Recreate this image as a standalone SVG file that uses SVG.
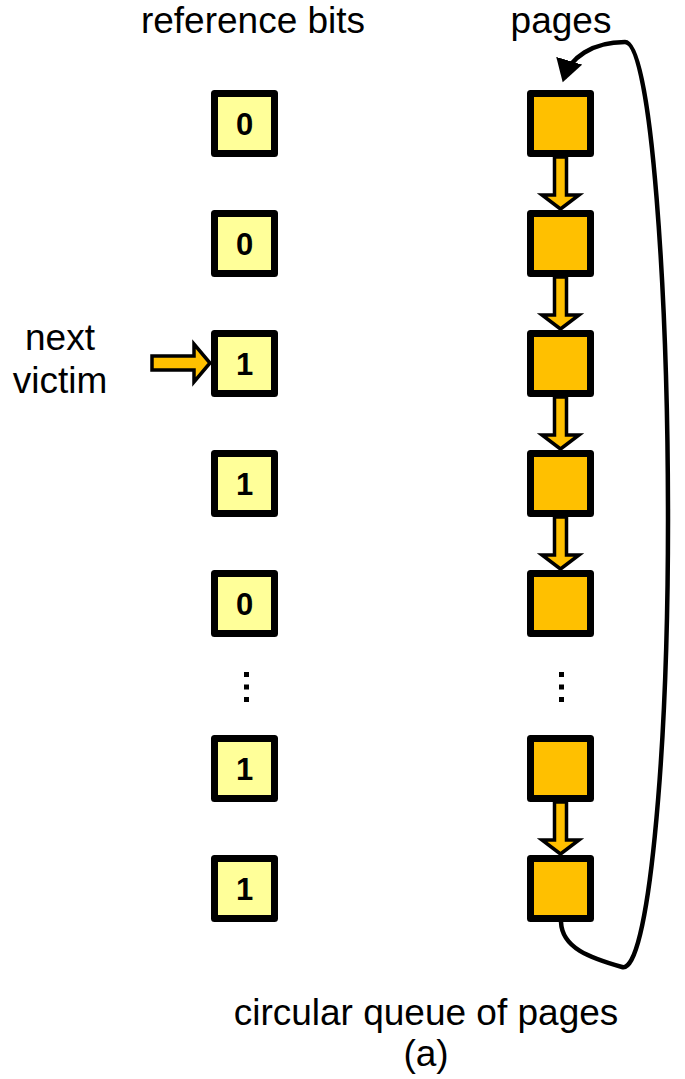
<svg xmlns="http://www.w3.org/2000/svg" width="685" height="1079" viewBox="0 0 685 1079">
<style>
.bit{fill:#FFFF99;stroke:#000;stroke-width:7;stroke-linejoin:round}
.page{fill:#FFC000;stroke:#000;stroke-width:7;stroke-linejoin:round}
.d{font-family:"Liberation Sans",Arial,sans-serif;font-weight:bold;font-size:31px;text-anchor:middle;fill:#000}
.lbl{font-family:"Liberation Sans",Arial,sans-serif;font-size:37px;text-anchor:middle;fill:#000}
.blk{fill:#FFC000;stroke:#000;stroke-width:3.5;stroke-linejoin:miter}
</style>
<defs>
<marker id="ah" markerWidth="6" markerHeight="6" refX="4" refY="3" orient="auto" markerUnits="strokeWidth">
<path d="M0,0 L5,3 L0,6 Z" fill="#000"/>
</marker>
</defs>
<rect width="685" height="1079" fill="#fff"/>
<text class="lbl" x="253" y="33">reference bits</text>
<text class="lbl" x="561" y="33">pages</text>
<text class="lbl" x="60" y="350">next</text>
<text class="lbl" x="60" y="393">victim</text>
<text class="lbl" x="426" y="1025">circular queue of pages</text>
<text class="lbl" x="426" y="1066">(a)</text>
<g id="bit1"><rect class="bit" x="214.5" y="93.5" width="60" height="60"/><text class="d" x="244.5" y="135">0</text></g>
<g id="bit2"><rect class="bit" x="214.5" y="213.5" width="60" height="60"/><text class="d" x="244.5" y="255">0</text></g>
<g id="bit3"><rect class="bit" x="214.5" y="333.5" width="60" height="60"/><text class="d" x="244.5" y="375">1</text></g>
<g id="bit4"><rect class="bit" x="214.5" y="453.5" width="60" height="60"/><text class="d" x="244.5" y="495">1</text></g>
<g id="bit5"><rect class="bit" x="214.5" y="573.5" width="60" height="60"/><text class="d" x="244.5" y="615">0</text></g>
<g id="bit6"><rect class="bit" x="214.5" y="738.5" width="60" height="60"/><text class="d" x="244.5" y="780">1</text></g>
<g id="bit7"><rect class="bit" x="214.5" y="858.5" width="60" height="60"/><text class="d" x="244.5" y="900">1</text></g>
<g id="dotsL" fill="#000"><rect x="244" y="672" width="5" height="5"/><rect x="244" y="684.5" width="5" height="5"/><rect x="244" y="697" width="5" height="5"/></g>
<g id="dotsR" fill="#000"><rect x="559" y="672" width="5" height="5"/><rect x="559" y="684.5" width="5" height="5"/><rect x="559" y="697" width="5" height="5"/></g>
<g id="page1"><rect class="page" x="530.5" y="93.5" width="60" height="60"/></g>
<g id="page2"><rect class="page" x="530.5" y="213.5" width="60" height="60"/></g>
<g id="page3"><rect class="page" x="530.5" y="333.5" width="60" height="60"/></g>
<g id="page4"><rect class="page" x="530.5" y="453.5" width="60" height="60"/></g>
<g id="page5"><rect class="page" x="530.5" y="573.5" width="60" height="60"/></g>
<g id="page6"><rect class="page" x="530.5" y="738.5" width="60" height="60"/></g>
<g id="page7"><rect class="page" x="530.5" y="858.5" width="60" height="60"/></g>
<g id="connectors">
<polygon class="blk" points="554.5,157 566.5,157 566.5,195 579,195 560.5,209 542,195 554.5,195"/>
<polygon class="blk" points="554.5,277 566.5,277 566.5,315 579,315 560.5,329 542,315 554.5,315"/>
<polygon class="blk" points="554.5,397 566.5,397 566.5,435 579,435 560.5,449 542,435 554.5,435"/>
<polygon class="blk" points="554.5,517 566.5,517 566.5,555 579,555 560.5,569 542,555 554.5,555"/>
<polygon class="blk" points="554.5,802 566.5,802 566.5,840 579,840 560.5,854 542,840 554.5,840"/>
<polygon class="blk" points="152,356 194,356 194,344 210,363 194,382 194,370 152,370"/>
<path d="M561 922 C 562 948 590 958 622 967 C 648 975 668 760 668 520 C 668 300 652 42 625 42 C 592 42 570 58 564 78" fill="none" stroke="#000" stroke-width="4.5" marker-end="url(#ah)"/>
</g>
</svg>
